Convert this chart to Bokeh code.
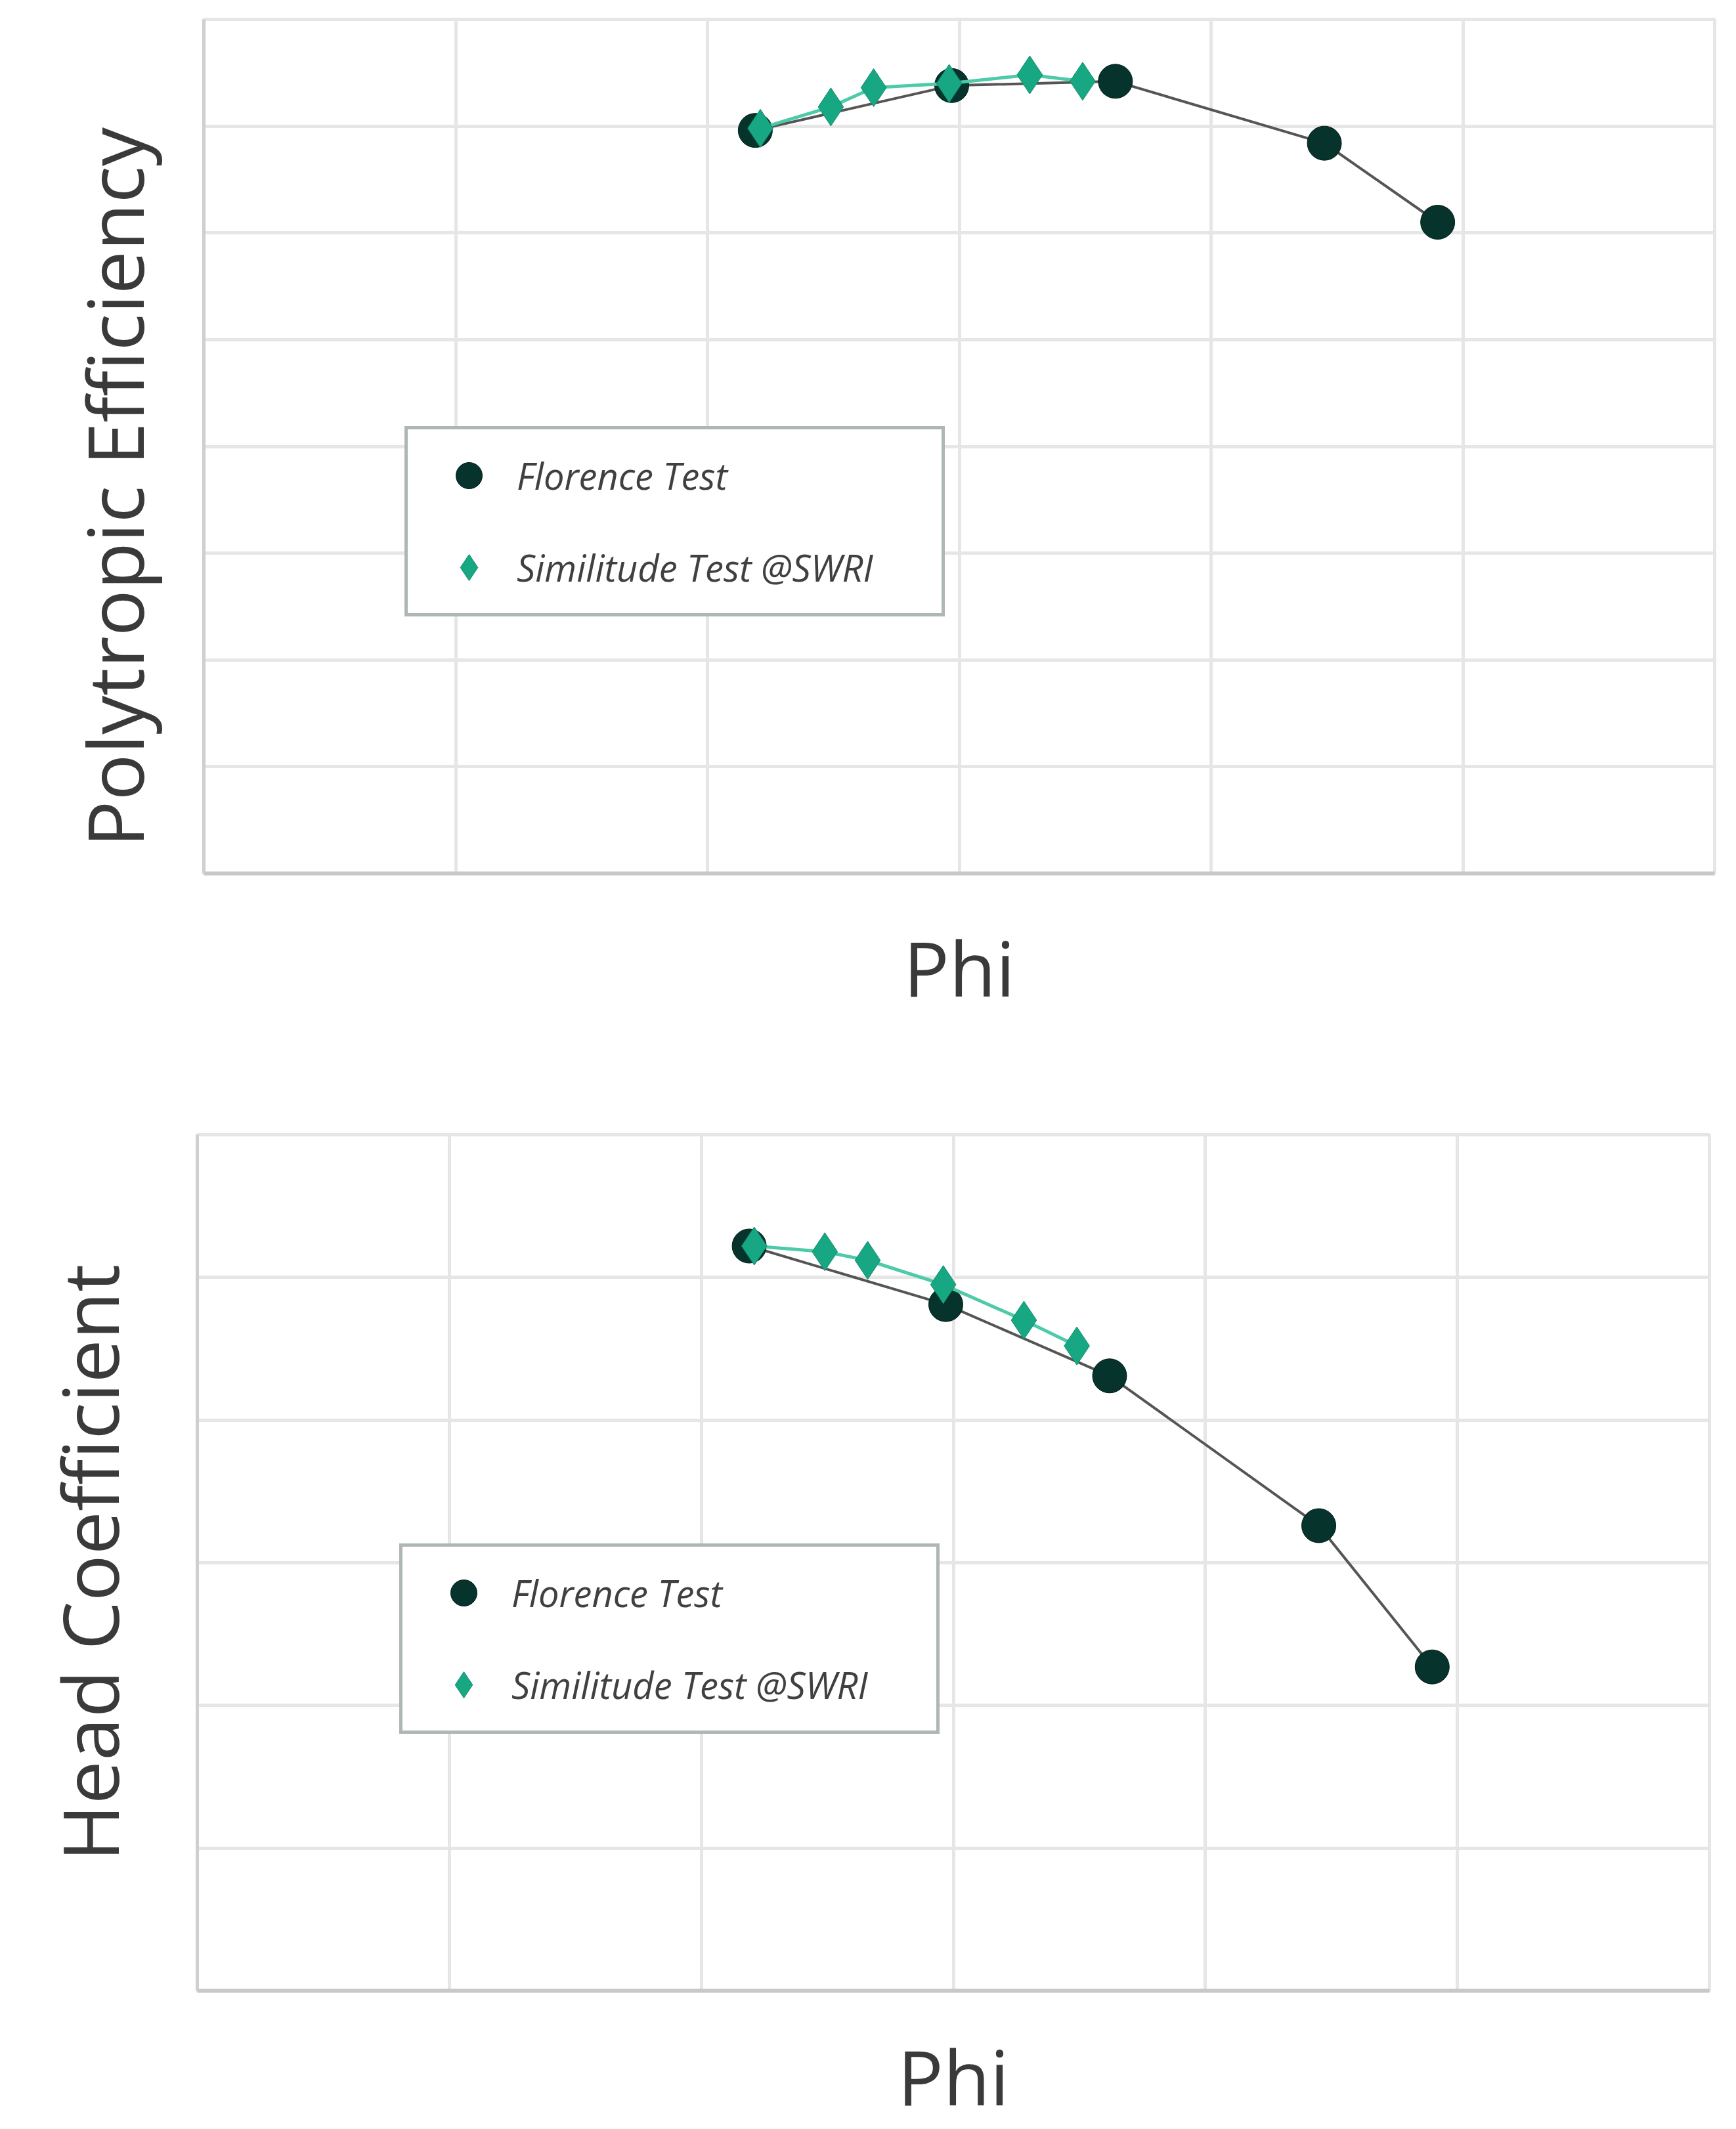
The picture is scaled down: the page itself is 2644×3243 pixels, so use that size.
from bokeh.plotting import figure
from bokeh.layouts import column, row
from bokeh.models import Legend, LegendItem, SingleIntervalTicker, FixedTicker, Range1d, Title
from bokeh.embed import file_html
from bokeh.resources import INLINE

# ---- data ----
phi_florence = [0.0219, 0.0297, 0.0362, 0.0445, 0.0490]
eff_florence = [0.848, 0.869, 0.871, 0.842, 0.805]
head_florence = [0.522, 0.481, 0.431, 0.326, 0.227]

phi_swri = [0.0221, 0.0249, 0.0266, 0.0296, 0.0328, 0.0349]
eff_swri = [0.849, 0.859, 0.868, 0.870, 0.874, 0.871]
head_swri = [0.522, 0.518, 0.512, 0.495, 0.470, 0.452]

series_labels = ["Florence Test", "Similitude Test @SWRI"]
x_title = "Phi"
y_titles = ["Polytropic Efficiency", "Head Coefficient"]

DARK = "#06332b"
GREEN = "#17a883"
GRID = "#e6e6e6"
TEXT = "#3a3a3a"


def make_fig(y_vals_f, y_vals_s, yr, ystep, ylabel, height, borders,
             xstand, ytitle, leg_loc):
    top, left, right, bottom = borders
    p = figure(width=2644, height=height, x_range=Range1d(0, 0.06), y_range=Range1d(*yr),
               output_backend="svg", toolbar_location=None,
               min_border_top=top, min_border_left=left, min_border_right=right,
               min_border_bottom=bottom)
    p.background_fill_color = "white"
    p.border_fill_color = "white"
    p.outline_line_color = GRID
    p.outline_line_width = 5

    p.xaxis.ticker = FixedTicker(ticks=[])
    p.yaxis.ticker = FixedTicker(ticks=[])
    p.xgrid.ticker = SingleIntervalTicker(interval=0.01)
    p.ygrid.ticker = SingleIntervalTicker(interval=ystep)
    p.xgrid.grid_line_color = GRID
    p.ygrid.grid_line_color = GRID
    p.xgrid.grid_line_width = 5
    p.ygrid.grid_line_width = 5

    for ax in (p.xaxis[0], p.yaxis[0]):
        ax.major_tick_out = 0
        ax.major_tick_in = 0
        ax.minor_tick_out = 0
        ax.minor_tick_in = 0
        ax.major_label_standoff = 0
        ax.axis_label_text_font = "Open Sans"
        ax.axis_label_text_font_style = "normal"
        ax.axis_label_text_color = TEXT
    p.xaxis.axis_line_color = "#c8c8c8"
    p.xaxis.axis_line_width = 6
    p.yaxis.axis_line_color = "#cfcfcf"
    p.yaxis.axis_line_width = 5

    p.xaxis.axis_label = x_title
    p.xaxis.axis_label_standoff = xstand
    p.xaxis.axis_label_text_font_size = "116px"

    mode, a, b = ytitle
    if mode == "title":
        # shifted along the axis, as in the reference
        p.add_layout(Title(text=ylabel, align="left", vertical_align="bottom",
                           offset=a, standoff=b,
                           text_font="Open Sans", text_font_size="118px",
                           text_font_style="normal", text_color=TEXT), "left")
    else:
        p.yaxis.axis_label = ylabel
        p.yaxis.axis_label_standoff = a
        p.yaxis.axis_label_text_font_size = "118px"

    p.line(phi_florence, y_vals_f, line_color="#555555", line_width=4)
    r_f = p.scatter(phi_florence, y_vals_f, marker="circle", size=52,
                    fill_color=DARK, line_color="#021c17", line_width=1)
    p.line(phi_swri, y_vals_s, line_color="#4ccaa9", line_width=5)
    r_s = p.scatter(phi_swri, y_vals_s, marker="diamond", size=58,
                    fill_color=GREEN, line_color="#0f8c6c", line_width=1)

    legend = Legend(items=[LegendItem(label=series_labels[0], renderers=[r_f]),
                           LegendItem(label=series_labels[1], renderers=[r_s])],
                    location=leg_loc, orientation="vertical",
                    padding=20, spacing=40, margin=0,
                    glyph_width=146, glyph_height=100, label_height=100,
                    label_standoff=0, label_width=627,
                    border_line_color="#5f6f6a", border_line_width=5,
                    background_fill_color="white", background_fill_alpha=1.0,
                    label_text_font="Open Sans", label_text_font_style="italic",
                    label_text_font_size="56px", label_text_color="#404040")
    p.add_layout(legend)
    return p


# top: frame 310..2611 x 29..1330 ; bottom: frame 300..2603 x 1728..3033
p1 = make_fig(eff_florence, eff_swri, (0.5, 0.9), 0.05, y_titles[0],
              1640, (29, 310, 33, 310), 63, ("title", 40, 114), (306, 391))
p2 = make_fig(head_florence, head_swri, (0.0, 0.6), 0.1, y_titles[1],
              1603, (88, 300, 41, 210), 50, ("axis", 85, 0), (308, 391))

layout = column(row(p1), row(p2), spacing=0)
open("out.html", "w").write(file_html(layout, INLINE))
